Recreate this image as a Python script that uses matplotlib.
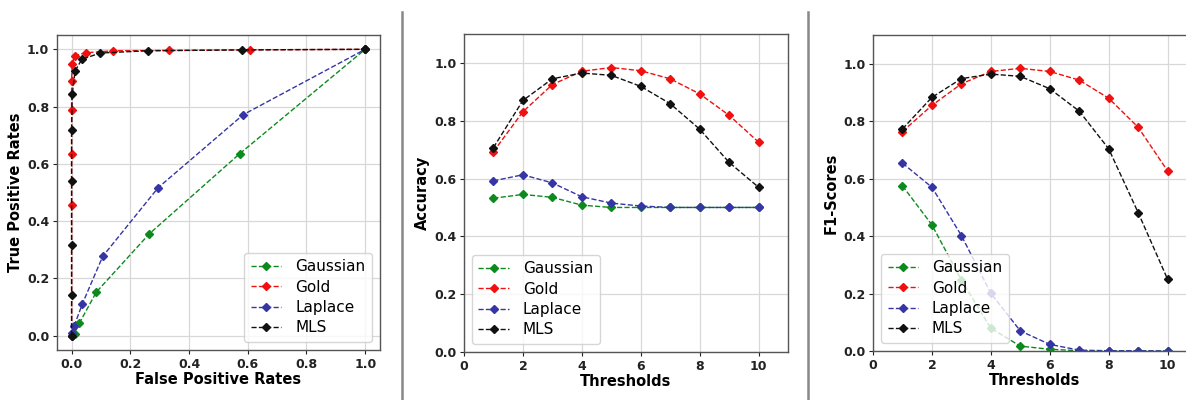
import matplotlib
matplotlib.use('Agg')
from matplotlib import pyplot as plt
from matplotlib.lines import Line2D
import numpy as np

# ROC curves (false positive rate, true positive rate)
gauss_fpr = [0.0, 0.01, 0.026, 0.084, 0.265, 0.572, 1.0]
gauss_tpr = [0.0, 0.007, 0.043, 0.152, 0.356, 0.635, 1.0]
lap_fpr = [0.0, 0.009, 0.037, 0.106, 0.295, 0.585, 1.0]
lap_tpr = [0.01, 0.035, 0.112, 0.277, 0.517, 0.772, 1.0]
gold_fpr = [0.0, 0.0, 0.0, 0.0, 0.0, 0.002, 0.011, 0.049, 0.142, 0.331, 0.606, 1.0]
gold_tpr = [0.0, 0.455, 0.635, 0.787, 0.891, 0.95, 0.978, 0.988, 0.995, 0.996, 0.998, 1.0]
mls_fpr = [0.0, 0.0, 0.0, 0.0, 0.0, 0.002, 0.012, 0.035, 0.097, 0.26, 0.58, 1.0]
mls_tpr = [0.0, 0.141, 0.315, 0.54, 0.717, 0.843, 0.925, 0.965, 0.987, 0.995, 0.998, 1.0]

thresholds = [1, 2, 3, 4, 5, 6, 7, 8, 9, 10]

acc_gauss = [0.532, 0.545, 0.535, 0.508, 0.500, 0.500, 0.500, 0.500, 0.500, 0.500]
acc_lap = [0.592, 0.613, 0.585, 0.537, 0.515, 0.505, 0.500, 0.500, 0.500, 0.500]
acc_gold = [0.693, 0.831, 0.925, 0.971, 0.984, 0.973, 0.945, 0.893, 0.819, 0.726]
acc_mls = [0.707, 0.870, 0.945, 0.965, 0.957, 0.919, 0.859, 0.771, 0.656, 0.570]

f1_gauss = [0.575, 0.439, 0.247, 0.079, 0.017, 0.006, 0.001, 0.0, 0.0, 0.0]
f1_lap = [0.654, 0.570, 0.402, 0.201, 0.070, 0.023, 0.003, 0.001, 0.001, 0.0]
f1_gold = [0.764, 0.855, 0.930, 0.973, 0.984, 0.973, 0.943, 0.880, 0.779, 0.627]
f1_mls = [0.773, 0.883, 0.948, 0.964, 0.956, 0.913, 0.835, 0.704, 0.482, 0.250]

names = ['Gaussian', 'Gold', 'Laplace', 'MLS']
colors = ['#0d8a1e', '#f01010', '#3535a5', '#111111']

plt.rcParams['font.family'] = 'DejaVu Sans'

fig = plt.figure(figsize=[11.86, 4.0], dpi=100)
ax1 = fig.add_axes([0.048, 0.125, 0.2723, 0.7875])
ax2 = fig.add_axes([0.3912, 0.12, 0.2732, 0.795])
ax3 = fig.add_axes([0.7361, 0.1225, 0.2732, 0.79])

style = dict(linestyle='--', marker='D', markersize=4, linewidth=1.0)
leg_kw = dict(fontsize=11, handlelength=2.0, borderpad=0.45,
              labelspacing=0.35, handletextpad=0.9)


def setup(ax):
    ax.grid(True, color='#d8d8d8', linewidth=0.9)
    ax.set_axisbelow(True)
    for s in ax.spines.values():
        s.set_color('#555555')
        s.set_linewidth(1.0)
    ax.tick_params(labelsize=9, colors='#222222', length=3, width=0.8, pad=2.5)
    for lb in ax.get_xticklabels() + ax.get_yticklabels():
        lb.set_fontweight('bold')


# ROC
ax1.plot(gauss_fpr, gauss_tpr, color=colors[0], label=names[0], **style)
ax1.plot(gold_fpr, gold_tpr, color=colors[1], label=names[1], **style)
ax1.plot(lap_fpr, lap_tpr, color=colors[2], label=names[2], **style)
ax1.plot(mls_fpr, mls_tpr, color=colors[3], label=names[3], **style)
ax1.set_xlim(-0.05, 1.05)
ax1.set_ylim(-0.05, 1.05)
ax1.set_xticks(np.arange(0, 1.01, 0.2))
ax1.set_yticks(np.arange(0, 1.01, 0.2))
ax1.set_xlabel('False Positive Rates', fontsize=10.5, fontweight='bold', labelpad=1)
ax1.set_ylabel('True Positive Rates', fontsize=10.5, fontweight='bold', labelpad=3)
setup(ax1)
ax1.legend(loc='lower right', **leg_kw)

# Accuracy
for vals, c, n in zip([acc_gauss, acc_gold, acc_lap, acc_mls], colors, names):
    ax2.plot(thresholds, vals, color=c, label=n, **style)
ax2.set_xlim(0, 11)
ax2.set_ylim(0, 1.1)
ax2.set_xticks([0, 2, 4, 6, 8, 10])
ax2.set_yticks(np.arange(0, 1.01, 0.2))
ax2.set_xlabel('Thresholds', fontsize=10.5, fontweight='bold', labelpad=1)
ax2.set_ylabel('Accuracy', fontsize=10.5, fontweight='bold', labelpad=3)
setup(ax2)
ax2.legend(loc='lower left', **leg_kw)

# F1
for vals, c, n in zip([f1_gauss, f1_gold, f1_lap, f1_mls], colors, names):
    ax3.plot(thresholds, vals, color=c, label=n, **style)
ax3.set_xlim(0, 11)
ax3.set_ylim(0, 1.1)
ax3.set_xticks([0, 2, 4, 6, 8, 10])
ax3.set_yticks(np.arange(0, 1.01, 0.2))
ax3.set_xlabel('Thresholds', fontsize=10.5, fontweight='bold', labelpad=1)
ax3.set_ylabel('F1-Scores', fontsize=10.5, fontweight='bold', labelpad=3)
setup(ax3)
ax3.legend(loc='lower left', **leg_kw)

# separators between the panels
for xs in [402 / 1186, 808 / 1186]:
    fig.add_artist(Line2D([xs, xs], [0, 0.97], transform=fig.transFigure,
                          color='#888888', linewidth=1.8))

fig.savefig('out.png', dpi=100)
